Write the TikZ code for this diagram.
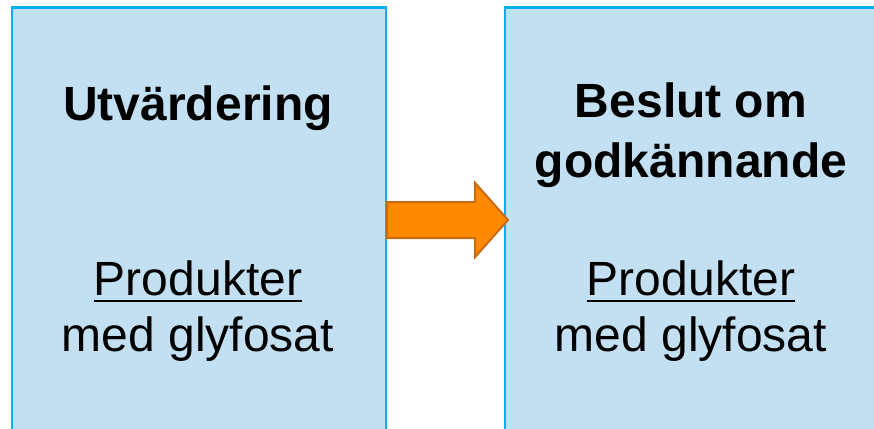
\documentclass[tikz,border=0pt]{standalone}
\usepackage{fontspec}
\setmainfont{Liberation Sans}
\usepackage{xcolor}
\usetikzlibrary{
    positioning,
    calc
}
\definecolor{boxfill}{HTML}{C3E0F2}
\definecolor{boxline}{HTML}{00B0F0}
\definecolor{arrowfill}{HTML}{FF8A00}
\definecolor{arrowline}{HTML}{C96A10}
\tikzset{
    % Stage box style
    stage/.style={
        rectangle,
        anchor=north west,
        minimum height=440pt,
        draw=boxline,
        fill=boxfill,
        line width=2.2pt,
        inner sep=0pt
    },
    % Heading text style
    heading/.style={
        anchor=base,
        inner sep=0pt,
        font=\fontsize{48}{58}\selectfont\bfseries
    },
    % Body text style
    body text/.style={
        anchor=base,
        inner sep=0pt,
        font=\fontsize{48}{58}\selectfont
    },
    % Underline style
    underline/.style={
        line width=2.6pt,
        draw=black
    },
    % Block arrow style
    block arrow/.style={
        fill=arrowfill,
        draw=arrowline,
        line width=2pt,
        line join=miter
    }
}
\begin{document}
\begin{tikzpicture}[x=1pt, y=-1pt]
    \useasboundingbox (0,0) rectangle (874,428);
    \clip (0,0) rectangle (874,428);

    % Stage boxes
    \node[stage, minimum width=374pt] (eval) at (11,6.5) {};
    \node[stage, minimum width=400pt] (decision) at (503.5,6.5) {};

    % Left box texts
    \node[heading] (evalTitle) at (198,120) {Utvärdering};
    \node[body text] (evalProd) at (198,295) {Produkter};
    \node[body text] (evalGly) at (198,351) {med glyfosat};
    \draw[underline] ([yshift=-6pt]evalProd.base west) -- ([yshift=-6pt]evalProd.base east);

    % Right box texts
    \node[heading] (decTitleA) at (691,117) {Beslut om};
    \node[heading] (decTitleB) at (691,177) {godkännande};
    \node[body text] (decProd) at (691,295) {Produkter};
    \node[body text] (decGly) at (691,351) {med glyfosat};
    \draw[underline] ([yshift=-6pt]decProd.base west) -- ([yshift=-6pt]decProd.base east);

    % Block arrow between the boxes
    \coordinate (tail) at (eval.east |- 0,220);
    \coordinate (tip) at (508,220);
    \draw[block arrow] ($(tail)+(0,-18)$) -- ++(88,0) -- ++(0,-19)
        -- (tip) -- ($(tail)+(88,37)$) -- ++(0,-19) -- ($(tail)+(0,18)$) -- cycle;
\end{tikzpicture}
\end{document}
